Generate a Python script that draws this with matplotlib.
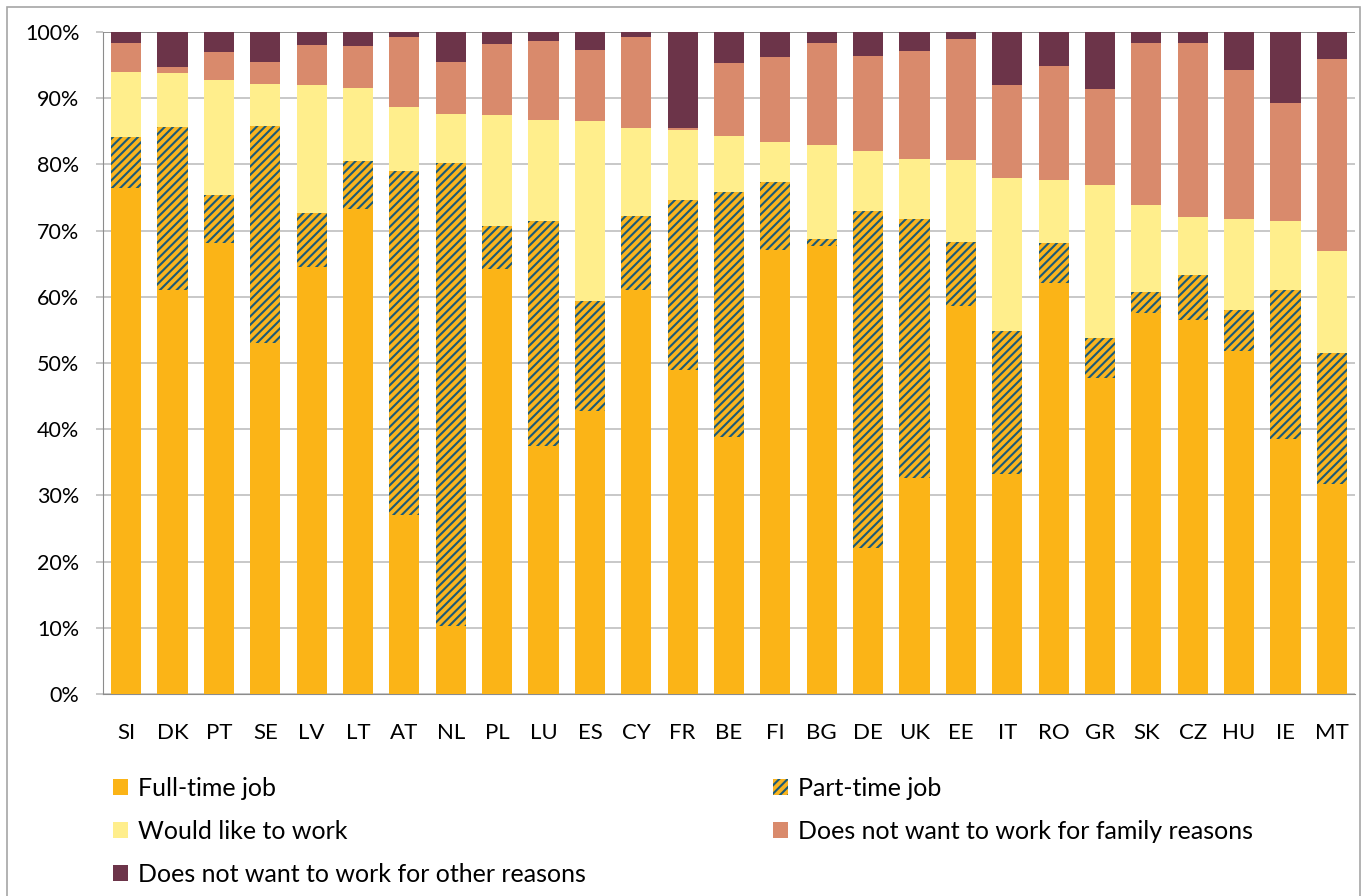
import matplotlib
matplotlib.use("Agg")
import matplotlib.pyplot as plt
import numpy as np
from matplotlib.patches import Patch, Rectangle

countries = ["SI", "DK", "PT", "SE", "LV", "LT", "AT", "NL", "PL", "LU", "ES", "CY", "FR", "BE",
             "FI", "BG", "DE", "UK", "EE", "IT", "RO", "GR", "SK", "CZ", "HU", "IE", "MT"]

# cumulative tops (percent)
top_full = [76.5, 61.0, 68.2, 53.0, 64.5, 73.2, 27.0, 10.3, 64.2, 37.4, 42.7, 61.0, 49.0, 38.8,
            67.1, 67.6, 22.0, 32.6, 58.6, 33.3, 62.1, 47.8, 57.5, 56.5, 51.8, 38.5, 31.8]
top_part = [84.2, 85.7, 75.4, 85.8, 72.7, 80.5, 79.0, 80.2, 70.7, 71.5, 59.3, 72.2, 74.6, 75.8,
            77.4, 68.8, 73.0, 71.8, 68.3, 54.8, 68.2, 53.8, 60.8, 63.3, 58.0, 61.0, 51.5]
top_would = [94.0, 93.8, 92.8, 92.2, 92.0, 91.5, 88.6, 87.6, 87.4, 86.7, 86.6, 85.5, 85.2, 84.3,
             83.4, 82.9, 82.0, 80.8, 80.6, 78.0, 77.6, 76.9, 73.9, 72.0, 71.8, 71.5, 66.9]
top_family = [98.3, 94.7, 97.0, 95.4, 98.0, 97.9, 99.2, 95.4, 98.2, 98.6, 97.3, 99.2, 85.5, 95.3,
              96.2, 98.3, 96.3, 97.2, 98.9, 92.0, 94.9, 91.4, 98.4, 98.4, 94.2, 89.2, 95.9]

full = np.array(top_full)
part = np.array(top_part) - np.array(top_full)
would = np.array(top_would) - np.array(top_part)
family = np.array(top_family) - np.array(top_would)
other = 100 - np.array(top_family)

labels = ["Full-time job", "Part-time job", "Would like to work",
          "Does not want to work for family reasons", "Does not want to work for other reasons"]

c_full = "#FBB417"
c_part_bg = "#F9B41E"
c_hatch = "#1A5A78"
c_would = "#FFEE8C"
c_family = "#D98A6C"
c_other = "#6C3449"

plt.rcParams['font.family'] = ['Lato', 'DejaVu Sans']
plt.rcParams['hatch.linewidth'] = 1.5

fig = plt.figure(figsize=(13.64, 8.96), dpi=100)
ax = fig.add_axes([0.0755, 0.2254, 0.9179, 0.7389])

x = np.arange(len(countries))
w = 0.65
ax.bar(x, full, w, color=c_full, zorder=3, linewidth=0)
ax.bar(x, part, w, bottom=full, color=c_part_bg, edgecolor=c_hatch, hatch='////', linewidth=0, zorder=3)
b1 = full + part
ax.bar(x, would, w, bottom=b1, color=c_would, zorder=3, linewidth=0)
b2 = b1 + would
ax.bar(x, family, w, bottom=b2, color=c_family, zorder=3, linewidth=0)
b3 = b2 + family
ax.bar(x, other, w, bottom=b3, color=c_other, zorder=3, linewidth=0)

ax.set_xlim(-0.5, len(countries) - 0.5)
ax.set_ylim(0, 100)
ax.set_yticks(np.arange(0, 101, 10))
ax.set_yticklabels([f"{v}%" for v in range(0, 101, 10)])
ax.set_xticks(x)
ax.set_xticklabels(countries)
ax.yaxis.grid(True, color="#BFBFBF", linewidth=1.2, zorder=0)
ax.set_axisbelow(True)
for s in ["top", "right"]:
    ax.spines[s].set_visible(False)
ax.spines["left"].set_color("#8C8C8C")
ax.spines["bottom"].set_color("#8C8C8C")
ax.tick_params(axis='both', colors="#000000")
ax.tick_params(axis='y', labelsize=15.5, length=5, width=1.2, color="#BFBFBF", pad=12)
ax.tick_params(axis='x', labelsize=16, length=0, pad=21)
ax.axhline(100, color="#8C8C8C", linewidth=1.2, zorder=1)

h_full = Patch(facecolor=c_full, linewidth=0)
h_part = Patch(facecolor=c_part_bg, edgecolor=c_hatch, hatch='////', linewidth=0)
h_would = Patch(facecolor=c_would, linewidth=0)
h_family = Patch(facecolor=c_family, linewidth=0)
h_other = Patch(facecolor=c_other, linewidth=0)

leg_kw = dict(loc="upper left", frameon=False, fontsize=18, handlelength=0.6, handleheight=0.6,
              handletextpad=0.4, labelspacing=0.8, borderaxespad=0, borderpad=0)
leg1 = fig.legend([h_full, h_would, h_other], [labels[0], labels[2], labels[4]],
                  bbox_to_anchor=(0.0828, 0.133), **leg_kw)
leg2 = fig.legend([h_part, h_family], [labels[1], labels[3]],
                  bbox_to_anchor=(0.5667, 0.133), **leg_kw)

fig.add_artist(Rectangle((7 / 1364, -0.01), 1353 / 1364, 0.9922 - (-0.01), transform=fig.transFigure,
                         fill=False, edgecolor="#A6A6A6", linewidth=1.2))

fig.savefig("out.png", dpi=100)
